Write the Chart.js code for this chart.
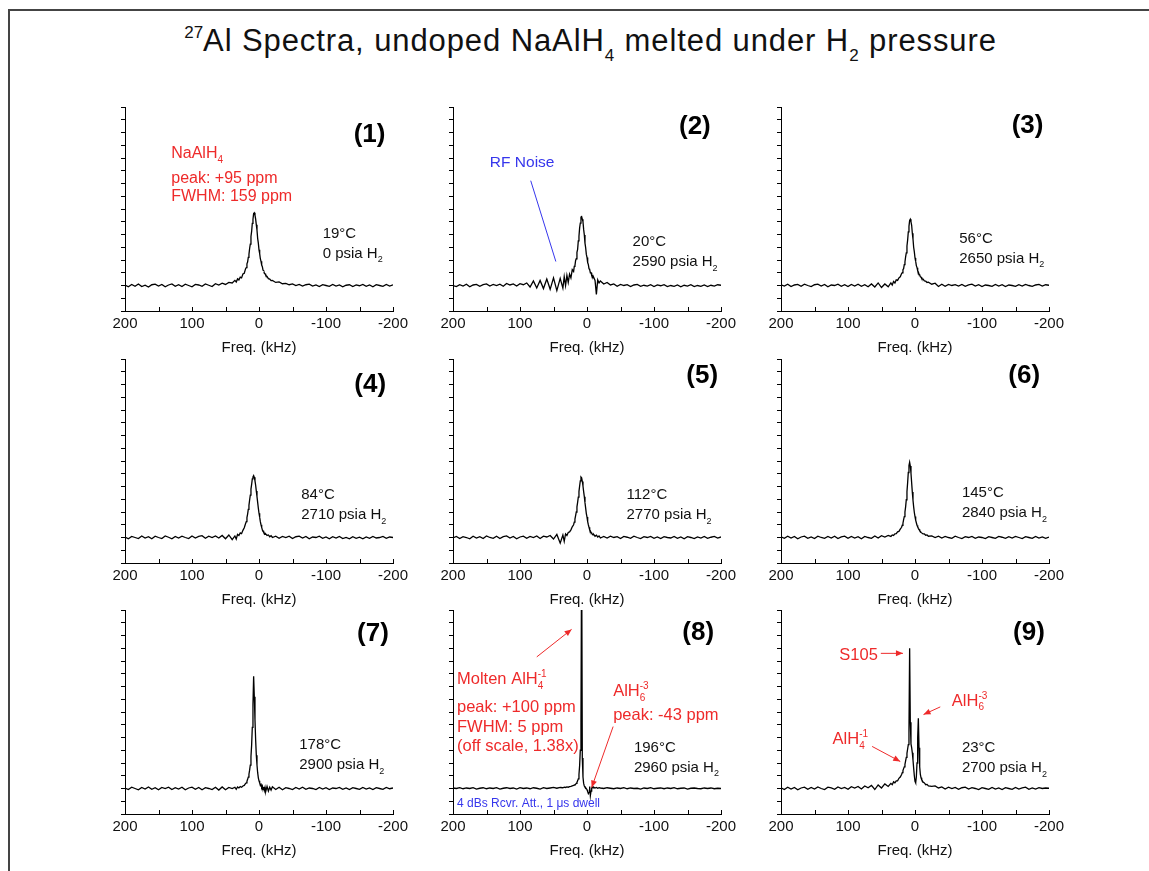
<!DOCTYPE html>
<html>
<head>
<meta charset="utf-8">
<script src="https://cdn.jsdelivr.net/npm/chart.js@4.4.1/dist/chart.umd.min.js"></script>
<style>
  html, body { margin: 0; padding: 0; background: #fff; }
  body { width: 1149px; height: 871px; position: relative; overflow: hidden; font-family: "Liberation Sans", Arial, sans-serif; }
  #frame { position: absolute; left: 8px; top: 9px; width: 1160px; height: 880px; border-top: 2px solid #444; border-left: 2px solid #444; }
  #title { position: absolute; left: 0; width: 1181px; top: 24px; text-align: center; font-size: 31px; letter-spacing: 0.9px; line-height: 34px; color: #111; }
  #title sup { font-size: 17px; vertical-align: 13px; line-height: 0; letter-spacing: 0; }
  #title sub { font-size: 17px; vertical-align: -10px; line-height: 0; }
  canvas.panel { position: absolute; }
</style>
</head>
<body>
<div id="frame"></div>
<div id="title"><sup>27</sup>Al Spectra, undoped NaAlH<sub>4</sub> melted under H<sub>2</sub> pressure</div>
<script>
// frequency grid (kHz), shared by all nine spectra
const freq = [
  200,195,190,185,180,175,170,165,160,155,150,145,140,135,130,125,120,115,110,105,
  100,95,90,85,80,75,70,65,60,55,50,45,40,
  36,34,32,30,28,26,24,22,20,
  19,18,17,16,15,14,13,12,11,10,9,8,7,6,5,4,3,2,1,0,-1,-2,-3,-4,-5,-6,-7,-8,-9,
  -10,-12,-14,-16,-18,-20,
  -25,-30,-35,-40,-45,-50,-55,-60,-65,-70,-75,-80,-85,-90,-95,-100,-105,-110,-115,-120,
  -125,-130,-135,-140,-145,-150,-155,-160,-165,-170,-175,-180,-185,-190,-195,-200
];
const freqTicks = [200, 100, 0, -100, -200];
const xTitle = 'Freq. (kHz)';

// (1) 19 C, 0 psia
const spec1 = [
  0.02,-0.05,0.04,-0.03,0.06,-0.04,0.01,-0.06,0.03,0.05,-0.02,0.04,-0.05,0.02,0.06,-0.03,0.03,-0.04,0.05,0.00,
  -0.05,0.04,0.02,-0.03,0.06,0.01,-0.04,0.07,0.02,0.09,0.04,0.12,0.10,
  0.20,0.14,0.26,0.22,0.33,0.30,0.45,0.48,0.66,
  0.70,0.85,0.92,1.10,1.22,1.45,1.62,1.92,2.12,2.44,2.60,2.82,2.85,2.76,2.60,2.38,2.17,1.85,1.66,1.40,1.25,1.05,0.95,0.80,0.74,0.60,0.58,0.48,0.46,
  0.40,0.36,0.27,0.25,0.19,0.20,
  0.12,0.14,0.07,0.08,0.03,0.06,0.00,0.04,-0.02,0.03,0.05,-0.02,0.02,-0.04,0.03,0.00,-0.03,0.04,-0.02,0.02,
  -0.05,0.01,0.03,-0.04,0.02,-0.01,0.04,-0.03,0.02,-0.05,0.03,0.00,-0.03,0.04,-0.02,0.03
];
// (2) 20 C, 2590 psia
const spec2 = [
  0.00,-0.04,0.03,-0.02,0.05,-0.05,0.02,0.04,-0.03,0.03,0.06,-0.02,0.04,0.00,0.05,-0.03,0.08,0.02,0.06,-0.02,
  0.07,0.03,0.10,-0.06,0.18,-0.10,0.20,-0.12,0.25,-0.15,0.30,-0.20,0.28,
  -0.10,0.35,0.00,0.40,0.12,0.45,0.30,0.62,0.55,
  0.75,0.78,0.98,1.05,1.30,1.42,1.75,1.93,2.26,2.45,2.68,2.70,2.60,2.50,2.20,1.98,1.66,1.48,1.22,1.10,0.90,0.82,0.66,0.62,0.50,0.50,0.40,0.40,0.30,
  0.32,0.20,-0.35,0.22,0.10,0.18,
  0.06,0.12,0.02,0.06,-0.03,0.04,0.00,0.03,-0.04,0.02,0.04,-0.03,0.01,-0.02,0.03,-0.04,0.02,-0.01,0.03,-0.04,
  0.00,-0.03,0.02,-0.05,0.01,-0.02,0.03,-0.04,0.00,-0.03,0.02,-0.04,0.01,-0.02,0.03,0.01
];
// (3) 56 C, 2650 psia
const spec3 = [
  0.03,-0.02,0.05,-0.04,0.02,0.04,-0.03,0.05,0.00,-0.04,0.03,0.05,-0.02,0.04,-0.05,0.02,0.00,0.05,-0.03,0.03,
  -0.04,0.04,-0.02,0.05,-0.03,0.03,-0.05,0.06,-0.06,0.10,-0.08,0.06,-0.05,
  0.10,0.02,0.16,0.10,0.22,0.20,0.30,0.34,0.47,
  0.50,0.62,0.66,0.82,0.92,1.12,1.28,1.55,1.78,2.10,2.32,2.55,2.60,2.50,2.36,2.05,1.82,1.50,1.32,1.08,0.95,0.78,0.70,0.58,0.53,0.44,0.41,0.34,0.33,
  0.27,0.25,0.18,0.17,0.12,0.13,
  0.05,0.09,-0.04,0.05,-0.03,0.04,0.00,0.03,-0.02,0.04,-0.03,0.02,0.05,-0.02,0.03,-0.04,0.02,0.00,-0.03,0.04,
  -0.02,0.03,-0.04,0.02,0.00,-0.03,0.03,-0.02,0.04,0.00,-0.03,0.02,0.04,-0.02,0.03,0.01
];
// (4) 84 C, 2710 psia
const spec4 = [
  0.02,-0.05,0.04,0.00,-0.04,0.06,-0.02,0.03,-0.05,0.05,0.00,-0.04,0.06,0.01,-0.05,0.04,-0.02,0.05,0.00,-0.04,
  0.06,-0.02,0.04,0.07,-0.03,0.05,0.00,0.06,-0.02,0.08,-0.05,0.10,-0.08,
  0.06,-0.06,0.12,0.08,0.18,0.15,0.28,0.38,0.55,
  0.62,0.78,0.92,1.10,1.26,1.47,1.66,1.90,2.08,2.30,2.38,2.43,2.36,2.22,2.05,1.82,1.60,1.38,1.15,0.95,0.80,0.62,0.50,0.40,0.30,0.26,0.20,0.18,0.12,
  0.14,0.08,0.10,0.03,0.07,0.00,
  0.05,-0.03,0.04,0.00,0.05,-0.04,0.03,0.05,-0.02,0.04,-0.05,0.02,0.00,0.05,-0.03,0.02,-0.05,0.03,-0.02,0.04,
  -0.04,0.00,-0.05,0.03,-0.03,0.01,-0.05,0.02,-0.03,0.04,-0.02,0.00,0.04,-0.03,0.02,0.00
];
// (5) 112 C, 2770 psia
const spec5 = [
  -0.02,0.04,-0.04,0.03,0.00,-0.05,0.05,-0.02,0.03,-0.04,0.06,0.00,-0.03,0.05,-0.04,0.03,0.06,-0.02,0.04,-0.05,
  0.02,0.05,-0.03,0.04,0.00,0.06,-0.04,0.05,0.02,0.08,-0.06,0.12,-0.22,
  0.10,-0.15,0.14,0.08,0.20,0.22,0.30,0.42,0.50,
  0.60,0.72,0.86,1.00,1.20,1.38,1.58,1.80,2.02,2.22,2.37,2.34,2.20,2.02,1.80,1.60,1.36,1.15,0.94,0.80,0.62,0.50,0.40,0.30,0.26,0.20,0.16,0.13,0.10,
  0.12,0.05,0.09,0.02,0.06,-0.02,
  0.04,-0.02,0.05,0.00,0.03,-0.04,0.04,0.01,-0.03,0.05,0.00,-0.04,0.03,0.00,0.04,-0.03,0.02,-0.04,0.03,0.00,
  -0.02,0.04,-0.03,0.02,-0.05,0.03,0.00,-0.04,0.02,-0.02,0.04,-0.03,0.01,0.04,-0.02,0.02
];
// (6) 145 C, 2840 psia
const spec6 = [
  0.03,-0.03,0.05,-0.02,0.04,-0.05,0.02,0.05,-0.03,0.02,-0.04,0.05,0.00,-0.03,0.04,-0.02,0.05,-0.04,0.02,0.05,
  -0.03,0.04,-0.02,0.03,-0.05,0.04,0.00,-0.03,0.06,-0.02,0.07,0.02,0.08,
  0.04,0.10,0.08,0.14,0.15,0.22,0.24,0.33,0.40,
  0.48,0.56,0.70,0.82,1.00,1.20,1.48,1.80,2.15,2.55,2.82,2.95,2.80,2.52,2.15,1.78,1.46,1.20,0.98,0.82,0.68,0.58,0.48,0.42,0.36,0.32,0.27,0.24,0.20,
  0.20,0.14,0.14,0.09,0.10,0.05,
  0.06,0.00,0.05,-0.02,0.04,0.00,-0.03,0.05,0.00,-0.04,0.03,0.00,0.04,-0.03,0.02,0.00,-0.04,0.03,0.00,-0.03,
  0.04,0.01,-0.03,0.03,-0.02,0.04,0.00,-0.04,0.03,0.00,-0.03,0.04,-0.02,0.02,-0.03,0.02
];
// (7) 178 C, 2900 psia
const spec7 = [
  0.02,-0.04,0.05,0.00,-0.05,0.04,-0.02,0.06,-0.03,0.03,-0.05,0.04,0.00,0.05,-0.04,0.03,-0.02,0.05,-0.05,0.02,
  0.05,-0.03,0.04,-0.05,0.03,0.00,-0.04,0.05,-0.06,0.06,-0.05,0.04,0.00,
  0.05,-0.03,0.06,0.02,0.08,0.05,0.10,0.12,0.20,
  0.22,0.28,0.36,0.45,0.56,0.72,0.92,1.25,1.70,2.40,3.30,4.40,3.60,2.70,1.90,1.30,0.92,0.62,0.42,0.30,0.22,0.12,0.16,0.05,0.10,-0.04,0.06,-0.08,0.04,
  -0.12,0.08,-0.10,0.05,-0.06,0.07,
  -0.04,0.05,-0.05,0.03,0.00,-0.04,0.04,-0.02,0.05,-0.03,0.02,0.00,-0.04,0.04,-0.02,0.03,-0.04,0.02,0.00,0.04,
  -0.03,0.02,-0.04,0.03,0.00,-0.03,0.04,-0.02,0.02,-0.04,0.03,0.00,-0.03,0.04,-0.01,0.02
];
// (8) 196 C, 2960 psia (main line off scale, 1.38x)
const spec8 = [
  0.02,0.00,0.03,-0.01,0.02,0.00,0.03,-0.02,0.01,0.03,-0.01,0.02,0.00,0.03,-0.02,0.01,0.03,0.00,0.02,-0.02,
  0.03,0.00,0.02,-0.01,0.03,0.01,-0.02,0.03,0.00,0.02,0.04,0.01,0.04,
  0.03,0.05,0.04,0.06,0.05,0.07,0.08,0.10,0.12,
  0.13,0.15,0.17,0.20,0.24,0.30,0.38,0.55,0.90,1.50,2.60,9.66,1.20,0.45,0.20,0.10,0.05,0.03,0.00,-0.05,-0.12,-0.20,-0.15,0.08,-0.28,-0.10,0.02,0.06,0.03,
  0.05,0.02,0.04,0.01,0.03,0.02,
  0.00,0.03,0.01,-0.01,0.02,0.00,0.03,-0.01,0.02,0.00,0.01,-0.02,0.02,0.00,0.03,-0.01,0.01,0.02,-0.01,0.02,
  0.00,0.03,-0.01,0.01,0.02,-0.02,0.01,0.02,0.00,-0.01,0.02,0.00,0.02,-0.01,0.01,0.00
];
// (9) 23 C, 2700 psia (after melting)
const spec9 = [
  0.03,-0.04,0.05,-0.02,0.04,-0.05,0.02,0.05,-0.03,0.04,-0.02,0.06,0.00,-0.04,0.05,0.02,-0.03,0.06,0.00,0.04,
  -0.03,0.07,0.02,0.08,-0.02,0.10,0.03,0.12,-0.04,0.14,0.02,0.18,0.08,
  0.20,0.15,0.26,0.22,0.30,0.30,0.40,0.45,0.55,
  0.62,0.70,0.78,0.85,0.95,1.08,1.22,1.38,1.55,1.72,2.30,5.50,2.60,1.75,1.60,1.40,1.12,0.80,0.50,0.28,0.22,0.45,1.00,2.00,2.75,1.60,0.85,0.55,0.42,
  0.35,0.25,0.22,0.15,0.16,0.10,
  0.08,0.10,0.02,0.06,-0.02,0.05,0.00,0.04,-0.03,0.03,0.05,-0.02,0.03,0.00,-0.04,0.03,0.00,-0.03,0.04,-0.02,
  0.02,-0.04,0.03,0.00,-0.03,0.04,-0.02,0.02,0.05,-0.03,0.02,-0.02,0.03,0.00,0.02,0.01
];
const spectra = [spec1, spec2, spec3, spec4, spec5, spec6, spec7, spec8, spec9];

const tags = ['(1)', '(2)', '(3)', '(4)', '(5)', '(6)', '(7)', '(8)', '(9)'];
const temps = ['19°C', '20°C', '56°C', '84°C', '112°C', '145°C', '178°C', '196°C', '23°C'];
const pressures = ['0', '2590', '2650', '2710', '2770', '2840', '2900', '2960', '2700'];

spectra.forEach((s, i) => {
  if (s.length !== freq.length) throw new Error('spectrum ' + (i + 1) + ' has ' + s.length + ' points');
});

// layout: chart-area left edges per column, top edges per row
const COLS = [124.5, 453.3, 781];
const ROWS = [107, 359, 610];
const FAM = '"Liberation Sans", Arial, sans-serif';
const RED = '#ee2a2a';
const BLUE = '#3636ec';
const INK = '#111';

// label positions in data units (kHz, intensity)
const tagPos = [[-165, 6.0], [-161, 6.28], [-168, 6.35], [-166, 6.05], [-172, 6.4], [-163, 6.4], [-170, 6.15], [-166, 6.2], [-170, 6.2]];
const condPos = [[-95, 2.08], [-68, 1.75], [-66, 1.88], [-63, 1.7], [-59, 1.7], [-70, 1.78], [-60, 1.75], [-70, 1.65], [-70, 1.62]];

const extras = {
  0: {
    texts: [
      { at: [131, 5.23], parts: [{ t: 'NaAlH' }, { sub: '4' }], size: 16, color: RED },
      { at: [131, 4.24], parts: [{ t: 'peak: +95 ppm' }], size: 16, color: RED },
      { at: [131, 3.52], parts: [{ t: 'FWHM: 159 ppm' }], size: 16, color: RED }
    ]
  },
  1: {
    texts: [{ at: [145, 4.86], parts: [{ t: 'RF Noise' }], size: 15.5, color: BLUE }],
    arrows: [{ from: [84, 4.11], to: [46.5, 0.94], color: BLUE, head: false }]
  },
  7: {
    texts: [
      { at: [194, 4.31], parts: [{ t: 'Molten AlH' }, { sub: '4', sup: '-1' }], size: 16.5, color: RED },
      { at: [194, 3.23], parts: [{ t: 'peak: +100 ppm' }], size: 16.5, color: RED },
      { at: [194, 2.43], parts: [{ t: 'FWHM: 5 ppm' }], size: 16.5, color: RED },
      { at: [194, 1.71], parts: [{ t: '(off scale, 1.38x)' }], size: 16.5, color: RED },
      { at: [-39, 3.87], parts: [{ t: 'AlH' }, { sub: '6', sup: '-3' }], size: 16.5, color: RED },
      { at: [-39, 2.9], parts: [{ t: 'peak: -43 ppm' }], size: 16.5, color: RED },
      { at: [194, -0.55], parts: [{ t: '4 dBs Rcvr. Att., 1 μs dwell' }], size: 12, color: BLUE }
    ],
    arrows: [
      { from: [75, 5.16], to: [23, 6.24], color: RED, head: true },
      { from: [-39, 2.43], to: [-7, 0.04], color: RED, head: true }
    ]
  },
  8: {
    texts: [
      { at: [113, 5.26], parts: [{ t: 'S105' }], size: 16.5, color: RED },
      { at: [-55, 3.48], parts: [{ t: 'AlH' }, { sub: '6', sup: '-3' }], size: 16.5, color: RED },
      { at: [123, 1.98], parts: [{ t: 'AlH' }, { sub: '4', sup: '-1' }], size: 16.5, color: RED }
    ],
    arrows: [
      { from: [51, 5.3], to: [18, 5.3], color: RED, head: true },
      { from: [-37.7, 3.2], to: [-12.7, 2.9], color: RED, head: true },
      { from: [64, 1.65], to: [22, 1.06], color: RED, head: true }
    ]
  }
};

function drawRich(ctx, px, py, parts, size, color, weight, align) {
  const small = Math.round(size * 0.62);
  const fnt = s => `${weight} ${s}px ${FAM}`;
  const widths = parts.map(p => {
    if (p.t !== undefined) { ctx.font = fnt(size); return ctx.measureText(p.t).width; }
    ctx.font = fnt(small);
    return Math.max(p.sub ? ctx.measureText(p.sub).width : 0, p.sup ? ctx.measureText(p.sup).width : 0);
  });
  let x = px;
  if (align === 'center') x -= widths.reduce((a, b) => a + b, 0) / 2;
  const base = py + size * 0.35;
  ctx.fillStyle = color;
  ctx.textAlign = 'left';
  ctx.textBaseline = 'alphabetic';
  parts.forEach((p, k) => {
    if (p.t !== undefined) {
      ctx.font = fnt(size);
      ctx.fillText(p.t, x, base);
    } else {
      ctx.font = fnt(small);
      if (p.sub) ctx.fillText(p.sub, x, base + size * 0.3);
      if (p.sup) ctx.fillText(p.sup, x, base - size * 0.42);
    }
    x += widths[k];
  });
}

function drawArrow(ctx, x1, y1, x2, y2, color, head) {
  ctx.strokeStyle = color;
  ctx.fillStyle = color;
  ctx.lineWidth = 1;
  ctx.beginPath();
  ctx.moveTo(x1, y1);
  ctx.lineTo(x2, y2);
  ctx.stroke();
  if (!head) return;
  const a = Math.atan2(y2 - y1, x2 - x1);
  const L = 7, W = 3;
  ctx.beginPath();
  ctx.moveTo(x2, y2);
  ctx.lineTo(x2 - L * Math.cos(a) + W * Math.sin(a), y2 - L * Math.sin(a) - W * Math.cos(a));
  ctx.lineTo(x2 - L * Math.cos(a) - W * Math.sin(a), y2 - L * Math.sin(a) + W * Math.cos(a));
  ctx.closePath();
  ctx.fill();
}

const notesPlugin = {
  id: 'notes',
  afterDatasetsDraw(chart, args, opts) {
    const { ctx, chartArea: a, scales: { x, y } } = chart;
    ctx.save();
    // small inward ticks along the frequency axis
    ctx.strokeStyle = '#000';
    ctx.lineWidth = 1;
    for (let v = -200; v <= 200; v += 50) {
      const px = Math.round(x.getPixelForValue(v)) + 0.5;
      ctx.beginPath();
      ctx.moveTo(px, a.bottom);
      ctx.lineTo(px, a.bottom - 4);
      ctx.stroke();
    }
    (opts.arrows || []).forEach(ar => drawArrow(ctx,
      x.getPixelForValue(ar.from[0]), y.getPixelForValue(ar.from[1]),
      x.getPixelForValue(ar.to[0]), y.getPixelForValue(ar.to[1]), ar.color, ar.head));
    (opts.texts || []).forEach(t => drawRich(ctx,
      x.getPixelForValue(t.at[0]), y.getPixelForValue(t.at[1]),
      t.parts, t.size, t.color, t.bold ? 'bold' : 'normal', t.align));
    ctx.restore();
  }
};

spectra.forEach((spec, i) => {
  const cv = document.createElement('canvas');
  cv.width = 340;
  cv.height = 279;
  cv.className = 'panel';
  cv.style.left = (COLS[i % 3] - 34) + 'px';
  cv.style.top = (ROWS[Math.floor(i / 3)] - 20) + 'px';
  document.body.appendChild(cv);

  const ex = extras[i] || {};
  const texts = [
    { at: tagPos[i], parts: [{ t: tags[i] }], size: 26, color: '#000', bold: true, align: 'center' },
    { at: condPos[i], parts: [{ t: temps[i] }], size: 15, color: INK },
    { at: [condPos[i][0], condPos[i][1] - 0.78], parts: [{ t: pressures[i] + ' psia H' }, { sub: '2' }], size: 15, color: INK }
  ].concat(ex.texts || []);

  new Chart(cv.getContext('2d'), {
    type: 'line',
    data: {
      datasets: [{
        data: freq.map((f, k) => ({ x: f, y: spec[k] })),
        borderColor: '#000',
        borderWidth: 1.3,
        pointRadius: 0,
        tension: 0
      }]
    },
    options: {
      responsive: false,
      animation: false,
      layout: { padding: { left: 30, right: 38, top: 20, bottom: 5 } },
      plugins: {
        legend: { display: false },
        tooltip: { enabled: false },
        notes: { texts: texts, arrows: ex.arrows || [] }
      },
      scales: {
        x: {
          type: 'linear',
          reverse: true,
          min: -200,
          max: 200,
          afterBuildTicks: s => { s.ticks = freqTicks.map(v => ({ value: v })); },
          ticks: { color: INK, font: { size: 15, family: FAM }, padding: 4, maxRotation: 0 },
          grid: { display: false, drawTicks: false },
          border: { display: true, color: '#000', width: 1 },
          title: { display: true, text: xTitle, color: INK, font: { size: 15, family: FAM }, padding: { top: 2, bottom: 4 } }
        },
        y: {
          min: -1,
          max: 7,
          ticks: { display: false, stepSize: 0.5 },
          grid: { display: true, drawOnChartArea: false, drawTicks: true, tickLength: 4, color: '#000' },
          border: { display: true, color: '#000', width: 1 }
        }
      }
    },
    plugins: [notesPlugin]
  });
});
</script>
</body>
</html>
